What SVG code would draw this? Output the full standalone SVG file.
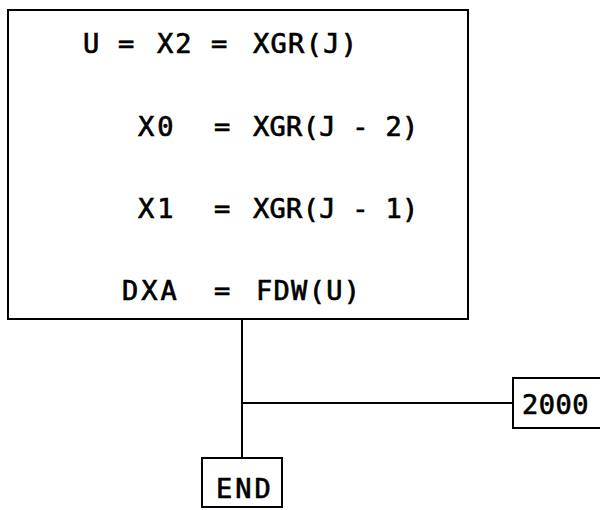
<svg xmlns="http://www.w3.org/2000/svg" width="600" height="510" viewBox="0 0 600 510">
<style>
.box{fill:none;stroke:#000;stroke-width:2}
.ln{stroke:#000;stroke-width:2;fill:none}
text{font-family:"DejaVu Sans Mono","Liberation Mono",monospace;font-size:27px;fill:#000;stroke:#000;stroke-width:0.7}
</style>
<rect width="600" height="510" fill="#fff"/>
<g id="assign">
<rect class="box" x="8" y="10" width="460" height="309"/>
<text x="83" y="53">U</text><text x="118" y="53">=</text><text x="157" y="53" letter-spacing="2">X2</text><text x="211" y="53">=</text><text x="253" y="53" letter-spacing="1.3">XGR(J)</text>
<text x="138" y="136" letter-spacing="3">X0</text><text x="214" y="136">=</text><text x="253" y="136" letter-spacing="0.3">XGR(J - 2)</text>
<text x="138" y="218" letter-spacing="3">X1</text><text x="214" y="218">=</text><text x="253" y="218" letter-spacing="0.3">XGR(J - 1)</text>
<text x="122" y="300" letter-spacing="3">DXA</text><text x="214" y="300">=</text><text x="256" y="300" letter-spacing="1.3">FDW(U)</text>
</g>
<g id="connectors">
<path class="ln" d="M242 319 V458"/>
<path class="ln" d="M242 403 H513"/>
</g>
<g id="end">
<rect class="box" x="202" y="458" width="80" height="49"/>
<text x="216" y="498" letter-spacing="3">END</text>
</g>
<g id="n2000">
<rect class="box" x="513" y="378" width="90" height="50"/>
<text x="522" y="414" letter-spacing="0.5">2000</text>
</g>
</svg>
